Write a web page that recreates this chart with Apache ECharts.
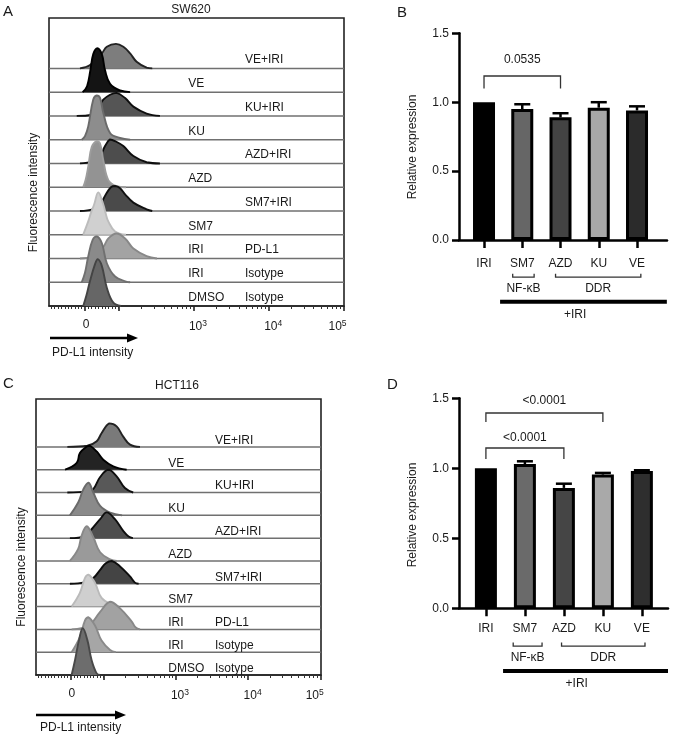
<!DOCTYPE html>
<html>
<head>
<meta charset="utf-8">
<script src="https://cdn.jsdelivr.net/npm/echarts@6/dist/echarts.min.js"></script>
<style>
  html, body { margin: 0; padding: 0; background: #fff; }
  #chart { width: 677px; height: 739px; }
</style>
</head>
<body>
<div id="chart"></div>
<script>
// ---------- histogram panels (A: SW620, C: HCT116) ----------
// rows listed top -> bottom; x in display units along the biexponential axis (0..100),
// height in row units above each row's baseline
const rowNames = ['VE+IRI', 'VE', 'KU+IRI', 'KU', 'AZD+IRI', 'AZD', 'SM7+IRI', 'SM7', 'IRI', 'IRI', 'DMSO'];
const rowCol = [1, 0, 1, 0, 1, 0, 1, 0, 0, 0, 0];
const rowTags = ['', '', '', '', '', '', '', '', 'PD-L1', 'Isotype', 'Isotype'];

const histA = [
  [[10.5,0],[13.9,0.14],[17.9,0.63],[19.6,0.91],[22.7,1.03],[25.2,0.91],[27.5,0.63],[29.7,0.28],[33.1,0.03],[35,0]],
  [[11.4,0],[12.9,0.25],[14.0,0.9],[15.0,1.6],[16.4,1.85],[17.9,1.6],[19.0,0.92],[20.7,0.35],[24.1,0.07],[27.5,0]],
  [[9.4,0],[14.5,0.05],[16.5,0.3],[18.4,0.68],[20.7,0.89],[22.9,0.97],[25.8,0.75],[28.6,0.39],[33.1,0.1],[37.6,0]],
  [[11.1,0],[12.2,0.15],[13.3,0.56],[15,1.69],[16.2,1.86],[17.3,1.76],[18.4,1.13],[20.7,0.28],[24.1,0.07],[27.5,0]],
  [[10.5,0],[15,0.1],[17.3,0.31],[19,0.73],[20.7,1.01],[22.4,0.94],[25.2,0.73],[28.6,0.31],[33.1,0.05],[37.6,0]],
  [[11.6,0],[12.4,0.3],[13.3,0.86],[14.5,1.7],[16.2,1.94],[17.3,1.84],[18.4,1.14],[20.1,0.3],[22.9,0.04],[26.1,0]],
  [[10.5,0],[15,0.08],[17.3,0.28],[19.3,0.7],[21,1.0],[22.4,1.05],[24,0.97],[25.8,0.7],[28.6,0.35],[33.1,0.07],[35,0]],
  [[11.6,0],[13.3,0.56],[14.3,0.95],[15.3,1.27],[16.7,1.78],[18.4,1.27],[19.2,0.9],[20.1,0.56],[22.4,0.14],[26.1,0]],
  [[10.5,0],[15,0.1],[18.4,0.49],[20.1,0.84],[22.9,1.05],[25.8,0.84],[28.6,0.42],[33.1,0.1],[36.6,0]],
  [[11.1,0],[12.2,0.4],[13.3,1.08],[14.8,1.78],[16.2,1.93],[17.9,1.65],[19.6,0.8],[22.4,0.24],[26.1,0.03],[27.5,0]],
  [[11.6,0],[12.7,0.45],[13.9,1.05],[15.6,1.76],[16.5,1.97],[17.9,1.69],[19.6,0.77],[21.8,0.14],[24.4,0]]
];
const fillA = ['#7d7d7d', '#141414', '#555555', '#8d8d8d', '#4d4d4d', '#939393', '#4a4a4a', '#d0d0d0', '#a3a3a3', '#8a8a8a', '#666666'];
const edgeA = ['#222222', '#000000', '#0e0e0e', '#6a6a6a', '#0e0e0e', '#9d9d9d', '#111111', '#bcbcbc', '#888888', '#707070', '#444444'];

const histC = [
  [[11,0],[18,0.05],[21.3,0.25],[23,0.6],[25.7,1.03],[28.3,0.9],[30.6,0.45],[33,0.1],[36.5,0]],
  [[10.2,0],[14.3,0.3],[15.4,0.73],[17.8,1.02],[18.9,1.05],[21.3,0.8],[23.6,0.44],[27.1,0.15],[31.8,0]],
  [[11,0],[18,0.05],[20.1,0.15],[22.5,0.68],[25.4,1.0],[28.3,0.71],[31.2,0.2],[34.1,0]],
  [[11.9,0],[14.8,0.56],[16.6,1.14],[18.4,1.43],[20.1,1.0],[22.5,0.41],[26,0.12],[30.2,0]],
  [[11.9,0],[17,0.08],[19.5,0.39],[22.5,0.83],[24.8,1.13],[27.7,0.83],[30.6,0.32],[32.5,0.07],[34,0]],
  [[11.9,0],[14.8,0.53],[16,1.11],[17.8,1.52],[20.1,1.04],[22.5,0.38],[26,0.07],[28.4,0]],
  [[11.9,0],[17,0.06],[20.1,0.25],[22.5,0.61],[24.5,0.9],[26.6,1.0],[29.5,0.76],[33,0.32],[34.7,0.05],[36,0]],
  [[12.5,0],[15.4,0.6],[17.2,1.26],[18.4,1.4],[20.7,1.04],[23,0.38],[27.1,0.05],[29,0]],
  [[12.5,0],[16,0.05],[18.9,0.19],[22.5,0.77],[26,1.21],[29.5,0.92],[33.6,0.34],[35,0.08],[36.5,0]],
  [[12.5,0],[15.4,0.66],[17.2,1.39],[18.4,1.53],[20.7,1.17],[23,0.51],[26,0.1],[28,0]],
  [[12.5,0],[13.7,0.66],[15.1,1.54],[16.4,2.05],[18,1.54],[19.5,0.66],[21.3,0.07],[22.5,0]]
];
const fillC = ['#7a7a7a', '#232323', '#585858', '#8a8a8a', '#4e4e4e', '#9a9a9a', '#444444', '#cfcfcf', '#a2a2a2', '#a6a6a6', '#6d6d6d'];
const edgeC = ['#222222', '#000000', '#0e0e0e', '#6a6a6a', '#0e0e0e', '#888888', '#0e0e0e', '#bababa', '#888888', '#8a8a8a', '#484848'];

// biexponential axis: 0, 10^2, 10^3, 10^4, 10^5
const histMajor = [12.2, 23.6, 49.1, 74.4, 99.8];
const histLabelPos = [12.6, 50.5, 76, 97.8];
const histLabels = ['0', '10{s|3}', '10{s|4}', '10{s|5}'];

// ---------- bar panels (B, D) ----------
const groups = ['IRI', 'SM7', 'AZD', 'KU', 'VE'];
const valB = [1.0, 0.95, 0.89, 0.96, 0.94];
const errB = [0, 0.035, 0.03, 0.04, 0.03];
const valD = [1.0, 1.03, 0.86, 0.955, 0.98];
const errD = [0, 0.02, 0.03, 0.012, 0.006];
const barColB = ['#000000', '#666666', '#434343', '#a8a8a8', '#2b2b2b'];
const barColD = ['#000000', '#6a6a6a', '#454545', '#a9a9a9', '#2e2e2e'];
const compB = [[0, 2, '0.0535']];
const compD = [[0, 3, '<0.0001'], [0, 2, '<0.0001']];
const yTicks = [0, 0.5, 1.0, 1.5];

// minor ticks of the flow axis: linear part around 0, log part above 10^2
const histMinor = [];
for (let k = -10; k <= 10; k++) if (k !== 0) histMinor.push(histMajor[0] + k * 1.14);
for (let d = 1; d < 4; d++) {
  for (let m = 2; m < 10; m++) histMinor.push(histMajor[d] + Math.log10(m) * (histMajor[d + 1] - histMajor[d]));
}

const FONT = 'Liberation Sans, Arial, sans-serif';
const INK = '#1a1a1a';

function histSeries(hist, fills, edges, xIdx, yIdx, labelX, labelDy) {
  return {
    type: 'custom', xAxisIndex: xIdx, yAxisIndex: yIdx, clip: false, silent: true,
    data: hist.map((h, i) => [i, 0]),
    renderItem(params, api) {
      const i = api.value(0);
      const row = hist.length - 1 - i;
      const children = [];
      if (row > 0) {
        const a = api.coord([0, row]), b = api.coord([100, row]);
        children.push({ type: 'line', shape: { x1: a[0], y1: a[1], x2: b[0], y2: b[1] },
          style: { stroke: '#707070', lineWidth: 1.5 } });
      }
      const pts = hist[i].map(p => api.coord([p[0], row + p[1]]));
      const xs = pts.map(p => p[0]), ys = pts.map(p => p[1]);
      const box = [[Math.min(...xs), Math.min(...ys)], [Math.max(...xs), Math.max(...ys)]];
      children.push({ type: 'polygon', shape: { points: pts, smooth: 0.4, smoothConstraint: box },
        style: { fill: fills[i] } });
      children.push({ type: 'polyline', shape: { points: pts, smooth: 0.4, smoothConstraint: box },
        style: { stroke: edges[i], lineWidth: 1.9, fill: null } });
      const t = api.coord([labelX[rowCol[i]], row + labelDy]);
      children.push({ type: 'text', style: { text: rowNames[i], x: t[0], y: t[1], fill: INK,
        fontSize: 12, fontFamily: FONT, align: 'left', verticalAlign: 'middle' } });
      if (rowTags[i]) {
        const t2 = api.coord([labelX[1], row + labelDy]);
        children.push({ type: 'text', style: { text: rowTags[i], x: t2[0], y: t2[1], fill: INK,
          fontSize: 12, fontFamily: FONT, align: 'left', verticalAlign: 'middle' } });
      }
      return { type: 'group', children };
    }
  };
}

function histAxes(gridIndex) {
  return [{
    type: 'value', gridIndex, min: 0, max: 100, position: 'bottom',
    axisLine: { onZero: false, lineStyle: { color: '#222', width: 1.6 } },
    axisTick: { customValues: histMajor, length: 5, lineStyle: { color: '#222', width: 1.6 } },
    axisLabel: {
      customValues: histLabelPos, margin: 13, color: INK, fontSize: 12, fontFamily: FONT,
      formatter: v => histLabels[histLabelPos.findIndex(p => Math.abs(p - v) < 0.01)] || '',
      rich: { s: { fontSize: 8.5, fontFamily: FONT, color: INK, verticalAlign: 'top', padding: [0, 0, 6, 0] } }
    },
    splitLine: { show: false }
  }, {
    type: 'value', gridIndex, min: 0, max: 100, position: 'bottom',
    axisLine: { show: false, onZero: false },
    axisTick: { customValues: histMinor, length: 3, lineStyle: { color: '#333', width: 1 } },
    axisLabel: { show: false }, splitLine: { show: false }
  }];
}

function barAxes(gridIndex, xmin, xmax, labelMargin) {
  return {
    x: {
      type: 'value', gridIndex, min: xmin, max: xmax, position: 'bottom',
      axisLine: { onZero: false, lineStyle: { color: '#000', width: 2.5 } },
      axisTick: { customValues: [0, 1, 2, 3, 4], length: 8, lineStyle: { color: '#000', width: 2.5 } },
      axisLabel: { customValues: [0, 1, 2, 3, 4], margin: labelMargin, color: INK, fontSize: 12, fontFamily: FONT,
        formatter: v => groups[Math.round(v)] },
      splitLine: { show: false }
    },
    y: {
      type: 'value', gridIndex, min: 0, max: 1.5, interval: 0.5, position: 'left',
      axisLine: { show: true, onZero: false, lineStyle: { color: '#000', width: 2.5 } },
      axisTick: { show: true, customValues: yTicks, length: 7, lineStyle: { color: '#000', width: 2.5 } },
      axisLabel: { customValues: yTicks, margin: 10, color: INK, fontSize: 12, fontFamily: FONT, formatter: v => v.toFixed(1) },
      splitLine: { show: false }
    }
  };
}

function barSeries(vals, cols, xIdx, yIdx) {
  return {
    type: 'bar', xAxisIndex: xIdx, yAxisIndex: yIdx, barWidth: 22, silent: true,
    data: vals.map((v, i) => ({ value: [i, v], itemStyle: { color: cols[i], borderColor: '#000', borderWidth: 3 } }))
  };
}

function errSeries(vals, errs, xIdx, yIdx) {
  return {
    type: 'custom', xAxisIndex: xIdx, yAxisIndex: yIdx, clip: false, silent: true, z: 1,
    data: vals.map((v, i) => [i, v, errs[i]]),
    renderItem(params, api) {
      const i = api.value(0), v = api.value(1), e = api.value(2);
      if (!e) return null;
      const a = api.coord([i, v]), b = api.coord([i, v + e]);
      return { type: 'group', children: [
        { type: 'line', shape: { x1: a[0], y1: a[1], x2: b[0], y2: b[1] }, style: { stroke: '#000', lineWidth: 2.5 } },
        { type: 'line', shape: { x1: b[0] - 8, y1: b[1], x2: b[0] + 8, y2: b[1] }, style: { stroke: '#000', lineWidth: 2.5 } }
      ] };
    }
  };
}

// p-value brackets: [bar y, foot y, text y] per comparison, in axis units
function compSeries(comps, levels, xIdx, yIdx) {
  return {
    type: 'custom', xAxisIndex: xIdx, yAxisIndex: yIdx, clip: false, silent: true,
    data: comps.map((c, k) => [k, 0]),
    renderItem(params, api) {
      const k = api.value(0);
      const c = comps[k], lv = levels[k];
      const p1 = api.coord([c[0], lv[1]]), p2 = api.coord([c[0], lv[0]]);
      const p3 = api.coord([c[1], lv[0]]), p4 = api.coord([c[1], lv[1]]);
      const t = api.coord([(c[0] + c[1]) / 2, lv[2]]);
      return { type: 'group', children: [
        { type: 'polyline', shape: { points: [p1, p2, p3, p4] }, style: { stroke: '#333', lineWidth: 1.3, fill: null } },
        { type: 'text', style: { text: c[2], x: t[0], y: t[1], fill: INK, fontSize: 12, fontFamily: FONT, align: 'center', verticalAlign: 'middle' } }
      ] };
    }
  };
}

// treatment groups under the x axis
function groupSeries(spans, names, iriSpan, iriTextX, xIdx, yIdx) {
  return {
    type: 'custom', xAxisIndex: xIdx, yAxisIndex: yIdx, clip: false, silent: true,
    data: [[0, 0]],
    renderItem(params, api) {
      const children = [];
      spans.forEach((s, k) => {
        const pts = [api.coord([s[0], -0.245]), api.coord([s[0], -0.27]), api.coord([s[1], -0.27]), api.coord([s[1], -0.245])];
        children.push({ type: 'polyline', shape: { points: pts }, style: { stroke: '#333', lineWidth: 1.3, fill: null } });
        const t = api.coord([(s[0] + s[1]) / 2, -0.355]);
        children.push({ type: 'text', style: { text: names[k], x: t[0], y: t[1], fill: INK, fontSize: 12, fontFamily: FONT, align: 'center', verticalAlign: 'middle' } });
      });
      const a = api.coord([iriSpan[0], -0.448]), b = api.coord([iriSpan[1], -0.448]);
      children.push({ type: 'line', shape: { x1: a[0], y1: a[1], x2: b[0], y2: b[1] }, style: { stroke: '#000', lineWidth: 4 } });
      const t = api.coord([iriTextX, -0.54]);
      children.push({ type: 'text', style: { text: '+IRI', x: t[0], y: t[1], fill: INK, fontSize: 12, fontFamily: FONT, align: 'center', verticalAlign: 'middle' } });
      return { type: 'group', children };
    }
  };
}

const axA = histAxes(0), axC = histAxes(2);
const axB = barAxes(1, -0.654, 4.784, 18), axD = barAxes(3, -0.69, 4.67, 14);

function txt(text, x, y, size, opts) {
  return Object.assign({ type: 'text', x, y, silent: true,
    style: { text, fontSize: size, fontFamily: FONT, fill: INK, align: 'center', verticalAlign: 'middle' } }, opts || {});
}
function leftTxt(text, x, y, size) {
  return { type: 'text', x, y, silent: true,
    style: { text, fontSize: size, fontFamily: FONT, fill: INK, align: 'left', verticalAlign: 'middle' } };
}
function arrow(x0, x1, y) {
  return [
    { type: 'line', silent: true, shape: { x1: x0, y1: y, x2: x1 - 9, y2: y }, style: { stroke: '#000', lineWidth: 2.5 } },
    { type: 'polygon', silent: true, shape: { points: [[x1 - 11, y - 4.5], [x1, y], [x1 - 11, y + 4.5]] }, style: { fill: '#000' } }
  ];
}

const chart = echarts.init(document.getElementById('chart'));
chart.setOption({
  animation: false,
  backgroundColor: '#fff',
  textStyle: { fontFamily: FONT },
  grid: [
    { left: 49, top: 18, width: 295, height: 288, show: true, borderColor: '#222', borderWidth: 1.6, outerBoundsMode: 'none' },
    { left: 459, top: 33.3, width: 208, height: 206.7, outerBoundsMode: 'none' },
    { left: 36, top: 399, width: 285, height: 276, show: true, borderColor: '#222', borderWidth: 1.6, outerBoundsMode: 'none' },
    { left: 459, top: 398.3, width: 209, height: 210, outerBoundsMode: 'none' }
  ],
  xAxis: [axA[0], axA[1], axB.x, axC[0], axC[1], axD.x],
  yAxis: [
    { type: 'value', gridIndex: 0, min: 0, max: 12.12, show: false },
    axB.y,
    { type: 'value', gridIndex: 2, min: 0, max: 12.1, show: false },
    axD.y
  ],
  series: [
    histSeries(histA, fillA, edgeA, 0, 0, [47.2, 66.4], 0.35),
    histSeries(histC, fillC, edgeC, 3, 2, [46.4, 62.8], 0.28),
    errSeries(valB, errB, 2, 1),
    barSeries(valB, barColB, 2, 1),
    compSeries(compB, [[1.19, 1.10, 1.306]], 2, 1),
    groupSeries([[0.75, 1.31], [1.87, 4.1]], ['NF-\u03baB', 'DDR'], [0.42, 4.78], 2.38, 2, 1),
    errSeries(valD, errD, 5, 3),
    barSeries(valD, barColD, 5, 3),
    compSeries(compD, [[1.395, 1.33, 1.48], [1.145, 1.066, 1.22]], 5, 3),
    groupSeries([[0.70, 1.44], [1.94, 4.08]], ['NF-\u03baB', 'DDR'], [0.44, 4.67], 2.33, 5, 3)
  ],
  graphic: [
    leftTxt('A', 3, 12, 15),
    leftTxt('B', 397, 13, 15),
    leftTxt('C', 3, 384, 15),
    leftTxt('D', 387, 385, 15),
    txt('SW620', 191, 10, 12),
    txt('HCT116', 177, 386, 12),
    txt('Fluorescence intensity', 34, 192.5, 12, { rotation: Math.PI / 2 }),
    txt('Fluorescence intensity', 22, 567, 12, { rotation: Math.PI / 2 }),
    txt('Relative expression', 413, 147, 12, { rotation: Math.PI / 2 }),
    txt('Relative expression', 413, 515, 12, { rotation: Math.PI / 2 }),
    ...arrow(50, 138, 338),
    ...arrow(36, 126, 715),
    leftTxt('PD-L1 intensity', 52, 353, 12),
    leftTxt('PD-L1 intensity', 40, 728, 12)
  ]
});
</script>
</body>
</html>
